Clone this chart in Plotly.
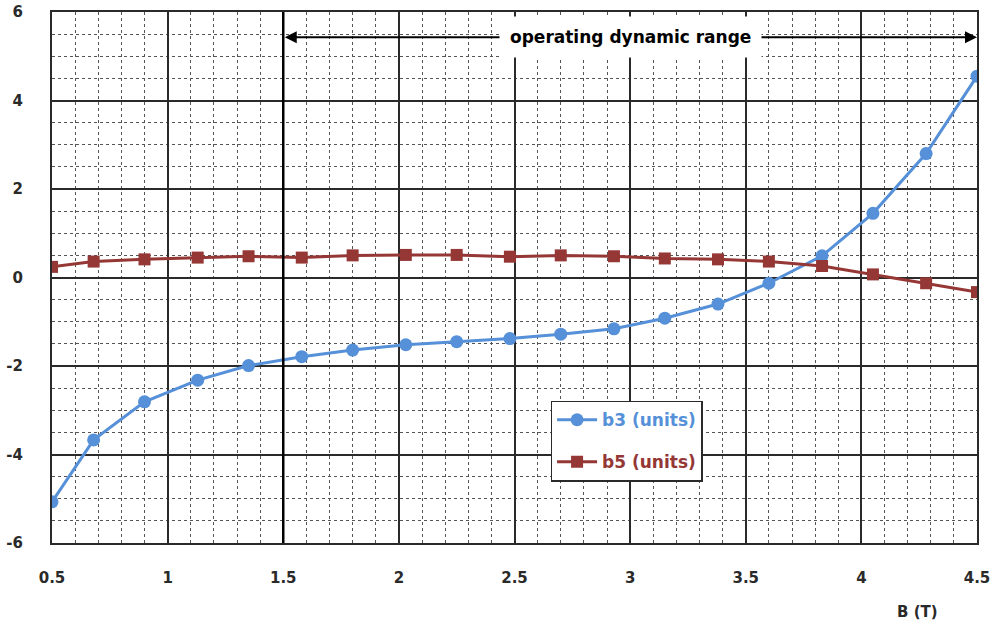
import plotly.graph_objects as go

# Data
B_T = [0.50, 0.68, 0.90, 1.13, 1.35, 1.58, 1.80, 2.03, 2.25, 2.48,
       2.70, 2.93, 3.15, 3.38, 3.60, 3.83, 4.05, 4.28, 4.50]
b3_units = [-5.07, -3.67, -2.81, -2.32, -1.99, -1.79, -1.64, -1.52, -1.45, -1.38,
            -1.28, -1.16, -0.92, -0.60, -0.13, 0.49, 1.45, 2.80, 4.55]
b5_units = [0.24, 0.36, 0.41, 0.45, 0.48, 0.45, 0.50, 0.51, 0.51, 0.47,
            0.50, 0.48, 0.43, 0.41, 0.36, 0.26, 0.07, -0.13, -0.33]

x_ticks = [0.5, 1, 1.5, 2, 2.5, 3, 3.5, 4, 4.5]
x_tick_text = ["0.5", "1", "1.5", "2", "2.5", "3", "3.5", "4", "4.5"]
y_ticks = [-6, -4, -2, 0, 2, 4, 6]
y_tick_text = ["-6", "-4", "-2", "0", "2", "4", "6"]

range_start, range_end, range_y = 1.5, 4.5, 5.43
range_label = "operating dynamic range"

FONT = "DejaVu Sans"
BLUE = "#5590D8"
RED = "#953735"
INK = "#2a2a2a"

fig = go.Figure()
fig.add_trace(go.Scatter(
    x=B_T, y=b3_units, mode="lines+markers",
    name=f"<span style='color:{BLUE}'>b3 (units)</span>",
    legendgroup="b3",
    line=dict(color=BLUE, width=3),
    marker=dict(symbol="circle", size=13, color=BLUE),
))
fig.add_trace(go.Scatter(
    x=B_T, y=b5_units, mode="lines+markers",
    name=f"<span style='color:{RED}'>b5 (units)</span>",
    legendgroup="b5",
    line=dict(color=RED, width=3),
    marker=dict(symbol="square", size=12, color=RED),
))

# thick vertical line marking the start of the range
fig.add_shape(type="line", xref="x", yref="paper", x0=range_start, x1=range_start,
              y0=0, y1=1, line=dict(color="black", width=2.5), layer="above")

# double-headed arrow
fig.add_annotation(x=range_end, y=range_y, ax=range_start, ay=range_y,
                   xref="x", yref="y", axref="x", ayref="y", text="",
                   showarrow=True, arrowhead=2, arrowside="end+start",
                   arrowsize=1.2, arrowwidth=2, arrowcolor="black")
fig.add_annotation(x=3.0, y=range_y, xref="x", yref="y", text=range_label,
                   showarrow=False, bgcolor="white", borderpad=10,
                   font=dict(family=FONT, size=17, color="black", weight="bold"))

fig.add_annotation(x=0.936, y=-0.13, xref="paper", yref="paper", text="B (T)",
                   showarrow=False, xanchor="center", yanchor="middle",
                   font=dict(family=FONT, size=15, color=INK, weight="bold"))

fig.update_xaxes(
    range=[0.5, 4.5], tickmode="array", tickvals=x_ticks, ticktext=x_tick_text,
    showgrid=True, gridcolor=INK, gridwidth=1.5, automargin=False,
    zeroline=False, showline=True, linecolor=INK, linewidth=2, mirror=True,
    ticks="", ticklabelstandoff=20,
    tickfont=dict(family=FONT, size=15, color=INK, weight="bold"),
    minor=dict(tickmode="linear", dtick=0.1, tick0=0.5, showgrid=True,
               griddash="dot", gridcolor="#555", gridwidth=1),
)
fig.update_yaxes(
    range=[-6, 6], tickmode="array", tickvals=y_ticks, ticktext=y_tick_text,
    showgrid=True, gridcolor=INK, gridwidth=1.5, automargin=False,
    zeroline=False, showline=True, linecolor=INK, linewidth=2, mirror=True,
    ticks="", ticklabelstandoff=24,
    tickfont=dict(family=FONT, size=15, color=INK, weight="bold"),
    minor=dict(tickmode="linear", dtick=0.5, tick0=0, showgrid=True,
               griddash="dot", gridcolor="#555", gridwidth=1),
)

fig.update_layout(
    width=994, height=625,
    margin=dict(l=52, r=17, t=12, b=82),
    plot_bgcolor="white", paper_bgcolor="white",
    showlegend=True,
    legend=dict(x=0.539, y=0.268, xanchor="left", yanchor="top",
                bgcolor="white", bordercolor=INK, borderwidth=1.5,
                traceorder="grouped", tracegroupgap=17,
                font=dict(family=FONT, size=17, weight="bold"),
                itemwidth=40),
)

fig.write_html("out.html", post_script="document.body.style.margin='0px';",
               config={"displayModeBar": False})
